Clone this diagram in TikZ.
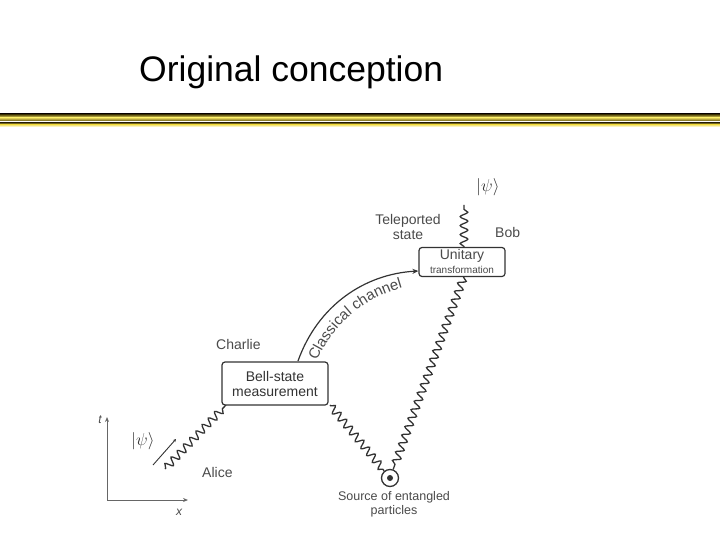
\documentclass[tikz,border=0pt]{standalone}
\usepackage{fontspec}
\setmainfont{Liberation Sans}
\usetikzlibrary{decorations.pathmorphing,decorations.text,arrows.meta}
\definecolor{txtgray}{HTML}{4A4A4A}
\definecolor{linegray}{HTML}{333333}
\definecolor{golddark}{HTML}{3A3000}
\definecolor{goldlight}{HTML}{F2E060}
\tikzset{
  wavy/.style={draw=linegray, line width=1.3pt, decorate, decoration={snake, amplitude=3.8pt, segment length=9pt, pre length=1pt, post length=1pt}},
  boxstyle/.style={draw=linegray, line width=1.2pt, rounded corners=3pt, fill=white},
  lab/.style={text=txtgray, font=\fontsize{14}{15}\selectfont, align=center, inner sep=0pt},
  axis/.style={draw=gray!80!black, line width=1pt, -{Stealth[length=5pt,width=4pt]}}
}
\begin{document}
\begin{tikzpicture}[x=1pt,y=-1pt]
\useasboundingbox (0,0) rectangle (720,540);
% title
\node[anchor=base west, inner sep=0pt, font=\fontsize{35.5}{40}\selectfont] (title) at (139,82) {Original conception};
% gold lines
\shade[top color=golddark, bottom color=goldlight] (0,114) rectangle (720,117.5);
\shade[top color=goldlight, bottom color=golddark!60!goldlight] (0,117.5) rectangle (720,120.2);
\shade[top color=golddark, bottom color=goldlight] (0,122.3) rectangle (720,124.6);
\shade[top color=goldlight, bottom color=white] (0,124.6) rectangle (720,127);
% boxes
\node[boxstyle, minimum width=106pt, minimum height=43pt, lab, text=linegray] (bell) at (275,383.5) {Bell-state\\measurement};
\node[boxstyle, minimum width=86pt, minimum height=29pt, inner sep=0pt] (unit) at (462,262) {};
\node[text=txtgray, inner sep=0pt, font=\fontsize{14}{15}\selectfont] (unitA) at (462,256) {Unitary};
\node[text=txtgray, inner sep=0pt, font=\fontsize{10}{11}\selectfont] (unitB) at (462,270) {transformation};
% source
\node[circle, draw=linegray, line width=1.3pt, minimum size=17pt, inner sep=0pt] (src) at (390,478) {};
\node[circle, fill=linegray, minimum size=6pt, inner sep=0pt] (srcdot) at (src.center) {};
% coordinates
\coordinate (psiTop) at (464,205);
\coordinate (aliceStart) at (165,469);
\coordinate (bellBL) at (226,405);
\coordinate (bellBR) at (330,405);
\coordinate (unitTop) at (464,247.5);
\coordinate (unitBot) at (464,276.5);
% wavy lines
\draw[wavy] (aliceStart) -- (bellBL);
\draw[wavy] (bellBR) -- (src);
\draw[wavy] (unitBot) -- (src);
\draw[wavy] (unitTop) -- (psiTop);
% small arrow next to psi
\coordinate (pa1) at (153,465);
\coordinate (pa2) at (176,439);
\draw[linegray, line width=0.9pt, -{Stealth[length=3pt,width=3pt]}] (pa1) -- (pa2);
% classical channel
\coordinate (ccStart) at (298,361);
\draw[linegray, line width=1.2pt, -{Stealth[length=6pt,width=5pt]}] (ccStart) .. controls (318,305) and (365,274) .. (unit.west |- 0,271);
\path[decorate, decoration={text along path, text={|\fontsize{15}{16}\selectfont\color{txtgray}|Classical channel}, text align=left}] (317,361) .. controls (336,318) and (372,292) .. (422,283);
% labels
\node[lab] (tele) at (408,227) {Teleported\\state};
\node[lab, anchor=west] (bob) at (495,232) {Bob};
\node[lab, anchor=west] (charlie) at (216,344) {Charlie};
\node[lab, anchor=west] (alice) at (202,472) {Alice};
\node[text=txtgray, font=\fontsize{12.5}{14}\selectfont, align=center, inner sep=0pt] (srclab) at (394,504) {Source of entangled\\particles};
\node[text=linegray, inner sep=0pt, font=\fontsize{18}{20}\selectfont] (psiB) at (488,187) {$|\psi\rangle$};
\node[text=linegray, inner sep=0pt, font=\fontsize{18}{20}\selectfont] (psiA) at (143,441) {$|\psi\rangle$};
% axes
\coordinate (origin) at (107,500);
\coordinate (tEnd) at (107,417);
\coordinate (xEnd) at (188,500);
\draw[axis] (origin) -- (tEnd);
\draw[axis] (origin) -- (xEnd);
\node[text=txtgray, inner sep=0pt, font=\fontsize{12}{13}\selectfont\itshape] (tlab) at (100,420) {t};
\node[text=txtgray, inner sep=0pt, font=\fontsize{12}{13}\selectfont\itshape] (xlab) at (179,512) {x};
\end{tikzpicture}
\end{document}
